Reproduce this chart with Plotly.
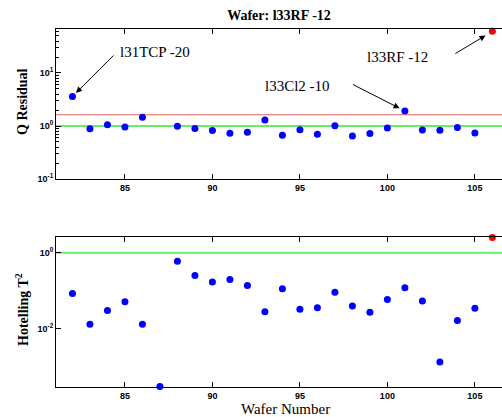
import plotly.graph_objects as go
from plotly.subplots import make_subplots
import math

# Q residual values (wafer 87 missing in the top panel)
q_wafers = [82, 83, 84, 85, 86, 88, 89, 90, 91, 92, 93, 94, 95, 96, 97, 98, 99, 100, 101, 102, 103, 104, 105]
q_values = [3.6, 0.89, 1.06, 0.96, 1.46, 0.99, 0.90, 0.82, 0.73, 0.76, 1.30, 0.67, 0.85, 0.70, 1.01, 0.65, 0.72, 0.92, 1.92, 0.84, 0.83, 0.94, 0.74]
q_test_wafer = [106]
q_test_value = [61]
q_limit_red = 1.63
q_limit_green = 1.0

t2_wafers = list(range(82, 106))
t2_values = [0.084, 0.013, 0.030, 0.051, 0.013, 0.00029, 0.60, 0.25, 0.17, 0.197, 0.137, 0.0275,
             0.112, 0.032, 0.035, 0.090, 0.039, 0.027, 0.058, 0.119, 0.053, 0.0013, 0.0163, 0.034]
t2_test_wafer = [106]
t2_test_value = [2.55]
t2_limit = 1.0

x_range = [81.06, 106.55]
x_ticks = [85, 90, 95, 100, 105]

W, H = 502, 417
ML, MR, MT, MB = 56, 0, 29, 30
PH = H - MT - MB
PW = W - ML - MR

fig = make_subplots(rows=2, cols=1, vertical_spacing=0.0)

blue = dict(color='#0000ff', size=7)
red = dict(color='#ff0000', size=7)

fig.add_trace(go.Scatter(x=x_range, y=[q_limit_red]*2, mode='lines', line=dict(color='#e06060', width=1.2)), row=1, col=1)
fig.add_trace(go.Scatter(x=x_range, y=[q_limit_green]*2, mode='lines', line=dict(color='#66ee66', width=2)), row=1, col=1)
fig.add_trace(go.Scatter(x=q_wafers, y=q_values, mode='markers', marker=blue), row=1, col=1)
fig.add_trace(go.Scatter(x=q_test_wafer, y=q_test_value, mode='markers', marker=red), row=1, col=1)

fig.add_trace(go.Scatter(x=x_range, y=[t2_limit]*2, mode='lines', line=dict(color='#66ee66', width=2)), row=2, col=1)
fig.add_trace(go.Scatter(x=t2_wafers, y=t2_values, mode='markers', marker=blue), row=2, col=1)
fig.add_trace(go.Scatter(x=t2_test_wafer, y=t2_test_value, mode='markers', marker=red), row=2, col=1)

for tr in fig.data:
    tr.cliponaxis = False

tickfont = dict(family='Liberation Sans', size=9, color='black', weight='bold')
serif = 'Liberation Serif'

fig.update_xaxes(range=x_range, tickvals=x_ticks, ticks='inside', ticklen=5, tickcolor='black',
                 showline=True, linecolor='black', linewidth=1, mirror='ticks', showgrid=False,
                 zeroline=False, tickfont=tickfont, automargin=False)

minor_top = [m * 10**e for e in (-1, 0, 1) for m in range(2, 10)]
fig.update_yaxes(type='log', range=[-1, 1.83], tickvals=[0.1, 1, 10],
                 ticktext=['10<sup>-1</sup>', '10<sup>0</sup>', '10<sup>1</sup>'],
                 ticks='inside', ticklen=5, tickcolor='black', showline=True, linecolor='black',
                 linewidth=1, showgrid=False, zeroline=False, tickfont=tickfont, automargin=False,
                 minor=dict(ticks='inside', ticklen=3, tickcolor='black', tickvals=minor_top, showgrid=False),
                 domain=[0.581, 1.0], row=1, col=1)
fig.update_yaxes(type='log', range=[-3.55, 0.41], tickvals=[0.01, 1],
                 ticktext=['10<sup>-2</sup>', '10<sup>0</sup>'],
                 ticks='inside', ticklen=5, tickcolor='black', showline=True, linecolor='black',
                 linewidth=1, showgrid=False, zeroline=False, tickfont=tickfont, automargin=False,
                 domain=[0.0, 0.418], row=2, col=1)

def px_x(p):
    return (p - ML) / PW

def px_y(p):
    return (H - MB - p) / PH

fig.add_annotation(xref='paper', yref='paper', x=px_x(22), y=px_y(102), text='<b>Q Residual</b>',
                   textangle=-90, showarrow=False, xanchor='center', yanchor='middle',
                   font=dict(family=serif, size=14, color='black'))
fig.add_annotation(xref='paper', yref='paper', x=px_x(22), y=px_y(310), text='<b>Hotelling T<sup>2</sup></b>',
                   textangle=-90, showarrow=False, xanchor='center', yanchor='middle',
                   font=dict(family=serif, size=14, color='black'))
fig.add_annotation(xref='paper', yref='paper', x=px_x(285), y=px_y(409), text='Wafer Number',
                   showarrow=False, xanchor='center', yanchor='middle',
                   font=dict(family=serif, size=15, color='black'))

afont = dict(family=serif, size=15, color='black')
annots = [
    dict(x=82, y=math.log10(q_values[0]), ax=44, ay=-44, standoff=5),
    dict(x=101, y=math.log10(q_values[18]), ax=-55, ay=-28, standoff=6),
    dict(x=106, y=math.log10(q_test_value[0]), ax=-40, ay=24, standoff=8),
]
for a in annots:
    fig.add_annotation(xref='x', yref='y', text=' ', showarrow=True, arrowhead=2, arrowsize=1.2,
                       arrowwidth=1, arrowcolor='black', **a)
labels = [('l31TCP -20', 86.72, 1.396), ('l33RF -12', 100.55, 1.30), ('l33Cl2 -10', 94.89, 0.755)]
for t, x, y in labels:
    fig.add_annotation(xref='x', yref='y', x=x, y=y, text=t, showarrow=False,
                       xanchor='center', yanchor='middle', font=afont)

fig.update_layout(
    width=W, height=H,
    margin=dict(l=ML, r=MR, t=MT, b=MB),
    paper_bgcolor='white', plot_bgcolor='white',
    showlegend=False,
    title=dict(text='<b>Wafer: l33RF -12</b>', x=0.5, xanchor='center', xref='paper', y=1 - 15/H, yanchor='middle',
               font=dict(family=serif, size=14, color='black')),
)

fig.write_html('out.html', config={'displayModeBar': False},
               post_script="document.body.style.margin='0';document.body.style.padding='0';")
